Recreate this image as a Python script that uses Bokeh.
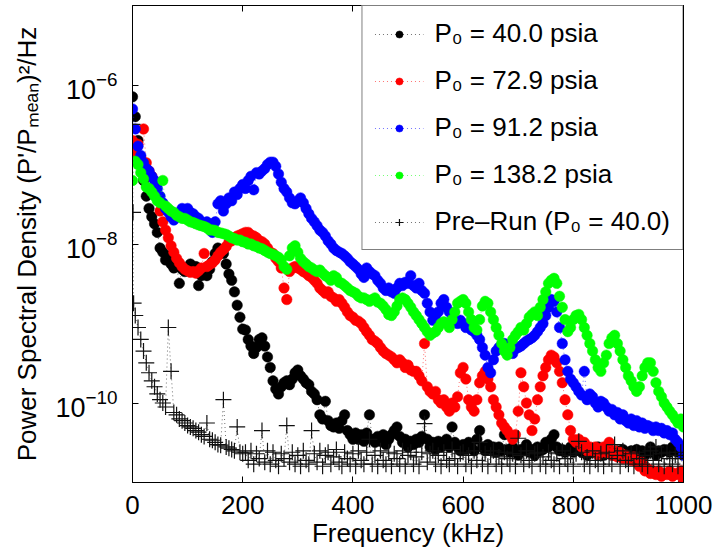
from bokeh.plotting import figure
from bokeh.models import (FixedTicker, Legend, LegendItem, LogAxis, LinearAxis,
                          CustomJSTickFormatter)
from bokeh.embed import file_html
from bokeh.resources import INLINE

FONT = "Liberation Sans"

# ---------------- data ----------------
FREQ_KHZ = list(range(0, 1001, 5))
FREQ_PRE_KHZ = [0, 1, 2] + list(range(5, 1001, 5))

PSD_40 = [
    7.1e-7, 4.0e-7, 2.0e-7, 1.1e-7, 6.3e-8, 4.0e-8, 2.8e-8, 2.2e-8, 1.8e-8, 1.4e-8,
    8.9e-9, 7.9e-9, 6.3e-9, 7.1e-9, 5.6e-9, 5.0e-9, 5.2e-9, 3.2e-9, 4.8e-9, 4.5e-9,
    5.0e-9, 5.6e-9, 4.8e-9, 5.2e-9, 3.0e-9, 4.0e-9, 4.5e-9, 4.0e-9, 4.8e-9, 6.0e-9,
    7.6e-9, 8.9e-9, 8.3e-9, 7.6e-9, 5.6e-9, 4.2e-9, 3.5e-9, 2.5e-9, 1.7e-9, 1.2e-9,
    8.5e-10, 8.3e-10, 6.3e-10, 5.2e-10, 4.2e-10, 5.0e-10, 6.3e-10, 6.6e-10, 5.2e-10, 3.8e-10,
    2.8e-10, 1.9e-10, 1.5e-10, 1.3e-10, 1.6e-10, 1.8e-10, 1.9e-10, 1.7e-10, 2.0e-10, 2.4e-10,
    2.6e-10, 2.2e-10, 2.0e-10, 1.8e-10, 1.7e-10, 1.4e-10, 1.3e-10, 1.1e-10, 7.1e-11, 6.3e-11,
    1.05e-10, 6.0e-11, 5.2e-11, 5.0e-11, 5.6e-11, 4.8e-11, 6.0e-11, 7.1e-11, 4.5e-11, 4.0e-11,
    3.5e-11, 4.2e-11, 3.5e-11, 4.0e-11, 3.3e-11, 4.2e-11, 7.1e-11, 3.5e-11, 3.2e-11, 3.8e-11,
    3.3e-11, 4.0e-11, 3.0e-11, 3.5e-11, 4.0e-11, 4.5e-11, 5.0e-11, 3.8e-11, 3.2e-11, 3.5e-11,
    2.8e-11, 3.3e-11, 3.0e-11, 3.5e-11, 3.2e-11, 3.8e-11, 7.1e-11, 3.5e-11, 2.8e-11, 3.2e-11,
    2.6e-11, 3.3e-11, 2.8e-11, 3.2e-11, 3.5e-11, 2.8e-11, 5.0e-11, 3.2e-11, 2.8e-11, 2.5e-11,
    3.0e-11, 2.6e-11, 3.2e-11, 2.8e-11, 2.5e-11, 3.5e-11, 4.5e-11, 2.8e-11, 2.5e-11, 3.0e-11,
    2.6e-11, 2.8e-11, 2.4e-11, 2.8e-11, 2.5e-11, 4.0e-11, 2.6e-11, 2.4e-11, 2.8e-11, 2.5e-11,
    2.2e-11, 2.6e-11, 2.5e-11, 3.0e-11, 2.4e-11, 2.6e-11, 2.2e-11, 2.8e-11, 2.5e-11, 2.6e-11,
    3.2e-11, 2.8e-11, 3.5e-11, 4.0e-11, 2.8e-11, 2.5e-11, 2.6e-11, 2.4e-11, 2.5e-11, 2.8e-11,
    2.4e-11, 2.6e-11, 2.8e-11, 2.4e-11, 2.5e-11, 2.2e-11, 2.6e-11, 2.4e-11, 2.5e-11, 2.8e-11,
    2.4e-11, 2.2e-11, 2.5e-11, 2.6e-11, 2.4e-11, 2.2e-11, 2.5e-11, 2.4e-11, 2.6e-11, 2.2e-11,
    2.4e-11, 2.5e-11, 2.2e-11, 2.6e-11, 2.4e-11, 2.5e-11, 2.2e-11, 2.4e-11, 2.8e-11, 2.5e-11,
    2.2e-11, 2.5e-11, 2.4e-11, 2.6e-11, 2.5e-11, 2.4e-11, 2.8e-11, 2.5e-11, 2.4e-11, 2.5e-11,
    1.0e-11,
]

PSD_72 = [
    2.0e-7, 1.4e-7, 1.8e-7, 1.2e-7, 2.8e-7, 1.05e-7, 8.3e-8, 7.1e-8, 5.2e-8, 4.0e-8,
    2.6e-8, 1.9e-8, 1.5e-8, 1.2e-8, 9.5e-9, 7.9e-9, 6.6e-9, 5.8e-9, 5.2e-9, 4.8e-9,
    4.6e-9, 4.4e-9, 4.5e-9, 4.3e-9, 4.6e-9, 5.0e-9, 7.6e-9, 5.2e-9, 5.5e-9, 5.8e-9,
    6.3e-9, 7.1e-9, 7.9e-9, 8.5e-9, 9.3e-9, 1.05e-8, 1.1e-8, 1.2e-8, 1.26e-8, 1.3e-8,
    1.35e-8, 1.4e-8, 1.4e-8, 1.3e-8, 1.26e-8, 1.2e-8, 1.1e-8, 1.07e-8, 1.0e-8, 8.9e-9,
    7.9e-9, 7.6e-9, 6.6e-9, 6.0e-9, 5.0e-9, 2.8e-9, 2.0e-9, 4.5e-9, 5.0e-9, 5.2e-9,
    5.0e-9, 4.8e-9, 4.5e-9, 4.3e-9, 4.0e-9, 3.8e-9, 3.5e-9, 3.2e-9, 2.8e-9, 2.6e-9,
    2.4e-9, 2.5e-9, 2.2e-9, 2.1e-9, 1.9e-9, 2.0e-9, 1.8e-9, 1.6e-9, 1.4e-9, 1.26e-9,
    1.2e-9, 1.1e-9, 1.07e-9, 1.0e-9, 8.9e-10, 7.9e-10, 7.1e-10, 6.3e-10, 6.0e-10, 5.6e-10,
    5.0e-10, 4.5e-10, 4.2e-10, 4.0e-10, 3.8e-10, 3.5e-10, 3.2e-10, 3.5e-10, 3.2e-10, 2.8e-10,
    3.0e-10, 2.6e-10, 2.5e-10, 2.5e-10, 2.2e-10, 1.9e-10, 5.6e-10, 1.6e-10, 1.4e-10, 1.3e-10,
    1.4e-10, 1.1e-10, 1.0e-10, 1.1e-10, 8.9e-11, 7.9e-11, 1.0e-10, 8.9e-11, 1.2e-10, 2.4e-10,
    2.8e-10, 2.0e-10, 1.1e-10, 8.9e-11, 7.9e-11, 1.1e-10, 1.8e-10, 2.2e-10, 2.5e-10, 2.0e-10,
    1.6e-10, 1.1e-10, 8.9e-11, 7.1e-11, 5.6e-11, 5.0e-11, 4.5e-11, 4.0e-11, 3.5e-11, 4.0e-11,
    7.9e-11, 2.4e-10, 1.6e-10, 1.0e-10, 7.1e-11, 4.5e-11, 6.3e-11, 1.1e-10, 1.6e-10, 2.2e-10,
    2.8e-10, 3.5e-10, 4.0e-10, 3.8e-10, 3.2e-10, 2.5e-10, 1.8e-10, 1.1e-10, 7.1e-11, 4.5e-11,
    3.5e-11, 3.2e-11, 3.5e-11, 2.8e-11, 3.2e-11, 2.5e-11, 2.8e-11, 2.5e-11, 2.8e-11, 2.2e-11,
    2.5e-11, 2.8e-11, 2.4e-11, 3.2e-11, 2.2e-11, 2.5e-11, 2.1e-11, 2.4e-11, 2.0e-11, 2.2e-11,
    2.0e-11, 1.9e-11, 2.1e-11, 1.8e-11, 1.6e-11, 1.8e-11, 1.4e-11, 1.5e-11, 1.3e-11, 1.4e-11,
    1.26e-11, 1.4e-11, 1.2e-11, 1.3e-11, 1.26e-11, 1.4e-11, 1.2e-11, 1.3e-11, 1.26e-11, 1.4e-11,
    1.1e-11,
]

PSD_91 = [
    5.0e-7, 2.8e-7, 1.7e-7, 1.3e-7, 1.05e-7, 8.9e-8, 8.3e-8, 7.1e-8, 6.3e-8, 5.0e-8,
    4.0e-8, 3.3e-8, 2.8e-8, 2.5e-8, 2.2e-8, 2.0e-8, 2.2e-8, 2.5e-8, 2.8e-8, 2.6e-8,
    2.8e-8, 2.5e-8, 2.4e-8, 2.2e-8, 2.1e-8, 1.9e-8, 1.8e-8, 1.9e-8, 1.6e-8, 1.4e-8,
    1.9e-8, 3.2e-8, 3.5e-8, 2.6e-8, 3.2e-8, 3.8e-8, 3.5e-8, 4.5e-8, 4.2e-8, 5.0e-8,
    5.6e-8, 5.0e-8, 6.3e-8, 7.1e-8, 4.8e-8, 7.9e-8, 7.6e-8, 8.3e-8, 8.9e-8, 1.0e-7,
    1.07e-7, 1.07e-7, 9.5e-8, 7.6e-8, 6.0e-8, 5.0e-8, 4.5e-8, 3.8e-8, 3.3e-8, 3.2e-8,
    3.5e-8, 3.8e-8, 3.3e-8, 2.8e-8, 2.4e-8, 2.1e-8, 1.9e-8, 1.7e-8, 1.5e-8, 1.4e-8,
    1.26e-8, 1.1e-8, 1.0e-8, 8.9e-9, 8.3e-9, 7.9e-9, 7.6e-9, 7.1e-9, 6.6e-9, 6.0e-9,
    5.6e-9, 5.2e-9, 4.8e-9, 4.2e-9, 3.8e-9, 5.0e-9, 4.5e-9, 4.2e-9, 4.0e-9, 3.5e-9,
    3.2e-9, 2.8e-9, 2.6e-9, 2.8e-9, 2.5e-9, 2.4e-9, 2.8e-9, 3.2e-9, 3.0e-9, 3.3e-9,
    3.2e-9, 4.0e-9, 3.0e-9, 2.8e-9, 3.2e-9, 2.6e-9, 2.4e-9, 1.8e-9, 1.4e-9, 1.1e-9,
    1.26e-9, 1.4e-9, 1.8e-9, 2.0e-9, 1.6e-9, 1.4e-9, 1.3e-9, 1.1e-9, 1.0e-9, 1.1e-9,
    1.0e-9, 8.9e-10, 9.5e-10, 8.3e-10, 7.9e-10, 7.1e-10, 6.3e-10, 5.0e-10, 4.0e-10, 2.8e-10,
    2.4e-10, 3.5e-10, 4.5e-10, 5.0e-10, 5.2e-10, 5.6e-10, 5.0e-10, 4.5e-10, 4.2e-10, 4.8e-10,
    5.0e-10, 5.2e-10, 5.6e-10, 6.0e-10, 6.3e-10, 6.6e-10, 7.1e-10, 7.9e-10, 8.9e-10, 1.0e-9,
    1.26e-9, 1.6e-9, 2.0e-9, 1.9e-9, 1.4e-9, 8.9e-10, 5.6e-10, 3.5e-10, 2.5e-10, 2.0e-10,
    1.8e-10, 1.6e-10, 1.4e-10, 1.26e-10, 2.5e-10, 1.1e-10, 1.3e-10, 1.2e-10, 1.0e-10, 8.9e-11,
    1.05e-10, 1.0e-10, 8.9e-11, 7.9e-11, 8.3e-11, 7.1e-11, 7.6e-11, 6.3e-11, 7.1e-11, 6.0e-11,
    5.6e-11, 6.3e-11, 5.2e-11, 6.0e-11, 5.0e-11, 5.6e-11, 4.8e-11, 5.2e-11, 5.0e-11, 4.5e-11,
    5.0e-11, 4.5e-11, 4.8e-11, 4.2e-11, 4.5e-11, 4.0e-11, 4.2e-11, 3.5e-11, 3.2e-11, 2.8e-11,
    2.2e-11,
]

PSD_138 = [
    6.3e-8, 1.1e-7, 1.0e-7, 7.9e-8, 6.6e-8, 5.2e-8, 5.0e-8, 4.5e-8, 4.0e-8, 3.5e-8,
    3.3e-8, 6.3e-8, 3.0e-8, 2.8e-8, 2.6e-8, 2.5e-8, 2.3e-8, 2.2e-8, 2.1e-8, 2.1e-8,
    2.0e-8, 1.9e-8, 1.86e-8, 1.8e-8, 1.74e-8, 1.7e-8, 1.66e-8, 1.6e-8, 1.5e-8, 1.5e-8,
    1.48e-8, 1.4e-8, 1.38e-8, 1.35e-8, 1.32e-8, 1.26e-8, 1.2e-8, 1.17e-8, 1.12e-8, 1.12e-8,
    1.07e-8, 1.05e-8, 1.0e-8, 1.0e-8, 9.5e-9, 9.3e-9, 8.9e-9, 8.7e-9, 8.3e-9, 7.9e-9,
    7.6e-9, 7.4e-9, 7.1e-9, 6.8e-9, 6.3e-9, 5.2e-9, 4.8e-9, 7.1e-9, 8.9e-9, 9.5e-9,
    7.9e-9, 6.6e-9, 6.0e-9, 5.6e-9, 5.2e-9, 5.0e-9, 4.7e-9, 4.5e-9, 4.7e-9, 4.3e-9,
    4.0e-9, 3.8e-9, 3.5e-9, 4.0e-9, 3.8e-9, 3.3e-9, 3.2e-9, 3.0e-9, 2.8e-9, 2.6e-9,
    2.5e-9, 2.4e-9, 2.2e-9, 2.1e-9, 2.1e-9, 2.0e-9, 1.9e-9, 2.0e-9, 2.1e-9, 1.86e-9,
    1.8e-9, 1.66e-9, 1.5e-9, 1.3e-9, 1.26e-9, 1.4e-9, 1.66e-9, 2.0e-9, 2.1e-9, 2.0e-9,
    1.8e-9, 1.6e-9, 1.4e-9, 1.26e-9, 1.12e-9, 1.0e-9, 8.9e-10, 7.9e-10, 7.1e-10, 7.6e-10,
    7.9e-10, 8.9e-10, 1.0e-9, 1.05e-9, 1.0e-9, 8.9e-10, 1.12e-9, 1.4e-9, 1.8e-9, 1.9e-9,
    2.0e-9, 1.8e-9, 1.4e-9, 1.12e-9, 8.9e-10, 8.3e-10, 1.12e-9, 1.66e-9, 1.9e-9, 1.8e-9,
    1.4e-9, 1.12e-9, 8.9e-10, 7.1e-10, 5.6e-10, 4.5e-10, 4.0e-10, 5.0e-10, 6.3e-10, 7.1e-10,
    7.9e-10, 8.9e-10, 8.3e-10, 1.0e-9, 1.2e-9, 1.3e-9, 1.4e-9, 1.26e-9, 1.6e-9, 2.0e-9,
    2.5e-9, 3.2e-9, 3.5e-9, 3.7e-9, 3.2e-9, 2.2e-9, 1.6e-9, 1.12e-9, 7.9e-10, 8.9e-10,
    1.12e-9, 1.26e-9, 1.3e-9, 1.12e-9, 8.9e-10, 7.1e-10, 5.6e-10, 4.5e-10, 3.5e-10, 2.8e-10,
    2.5e-10, 3.2e-10, 4.0e-10, 5.6e-10, 6.6e-10, 7.1e-10, 5.6e-10, 4.5e-10, 3.5e-10, 2.8e-10,
    2.2e-10, 1.9e-10, 1.6e-10, 1.4e-10, 1.6e-10, 2.2e-10, 2.8e-10, 3.2e-10, 3.2e-10, 2.5e-10,
    1.8e-10, 1.4e-10, 1.2e-10, 1.0e-10, 8.9e-11, 7.9e-11, 7.1e-11, 6.3e-11, 5.6e-11, 6.3e-11,
    5.0e-11,
]

PSD_PRERUN = [
    3.2e-7, 2.5e-8, 1.8e-9,
    1.26e-9, 8.9e-10, 6.3e-10, 4.5e-10, 3.2e-10, 2.4e-10, 1.9e-10, 1.6e-10, 1.3e-10, 1.1e-10,
    1.0e-10, 8.9e-11, 8.9e-10, 2.5e-10, 7.6e-11, 7.1e-11, 6.3e-11, 6.0e-11, 5.6e-11, 5.2e-11,
    5.0e-11, 4.8e-11, 4.5e-11, 4.3e-11, 4.0e-11, 3.8e-11, 5.6e-11, 3.5e-11, 3.4e-11, 3.2e-11,
    3.0e-11, 2.95e-11, 1.1e-10, 2.8e-11, 2.7e-11, 2.6e-11, 2.5e-11, 5.0e-11, 2.4e-11, 2.3e-11,
    2.4e-11, 1.9e-11, 2.5e-11, 1.7e-11, 2.3e-11, 2.0e-11, 4.5e-11, 1.8e-11, 2.5e-11, 1.7e-11,
    2.4e-11, 1.9e-11, 1.6e-11, 2.3e-11, 2.0e-11, 5.2e-11, 1.8e-11, 2.4e-11, 1.7e-11, 2.2e-11,
    1.6e-11, 2.5e-11, 1.9e-11, 1.7e-11, 4.5e-11, 2.3e-11, 1.8e-11, 2.5e-11, 1.6e-11, 2.2e-11,
    2.4e-11, 1.7e-11, 2.1e-11, 2.6e-11, 1.8e-11, 1.6e-11, 2.4e-11, 2.0e-11, 1.7e-11, 2.3e-11,
    1.6e-11, 2.5e-11, 1.9e-11, 1.7e-11, 2.4e-11, 3.5e-11, 1.7e-11, 2.2e-11, 1.6e-11, 2.5e-11,
    1.9e-11, 1.7e-11, 2.4e-11, 1.6e-11, 2.3e-11, 2.0e-11, 1.7e-11, 2.5e-11, 1.6e-11, 2.2e-11,
    2.4e-11, 1.7e-11, 2.1e-11, 1.6e-11, 2.4e-11, 5.5e-11, 1.8e-11, 2.3e-11, 2.5e-11, 1.7e-11,
    2.2e-11, 1.6e-11, 2.4e-11, 1.9e-11, 1.7e-11, 2.6e-11, 2.0e-11, 1.6e-11, 2.3e-11, 2.4e-11,
    1.7e-11, 2.2e-11, 1.6e-11, 2.5e-11, 1.9e-11, 3.2e-11, 1.7e-11, 2.3e-11, 1.6e-11, 2.2e-11,
    2.5e-11, 1.7e-11, 2.1e-11, 1.6e-11, 2.4e-11, 2.0e-11, 1.7e-11, 2.3e-11, 1.6e-11, 3.6e-11,
    2.2e-11, 1.7e-11, 2.5e-11, 1.9e-11, 1.6e-11, 2.3e-11, 2.4e-11, 1.7e-11, 2.1e-11, 1.6e-11,
    2.4e-11, 1.9e-11, 1.7e-11, 2.3e-11, 1.6e-11, 2.5e-11, 2.0e-11, 1.7e-11, 2.2e-11, 1.6e-11,
    2.3e-11, 3.3e-11, 2.4e-11, 1.7e-11, 2.1e-11, 1.6e-11, 2.5e-11, 1.9e-11, 1.7e-11, 2.3e-11,
    1.6e-11, 2.4e-11, 2.0e-11, 1.7e-11, 3.0e-11, 2.2e-11, 1.6e-11, 2.5e-11, 1.9e-11, 1.7e-11,
    2.3e-11, 1.6e-11, 2.4e-11, 2.0e-11, 1.7e-11, 2.2e-11, 1.6e-11, 2.5e-11, 1.9e-11, 2.8e-11,
    1.7e-11, 2.3e-11, 1.6e-11, 2.4e-11, 2.0e-11, 1.7e-11, 2.2e-11, 1.6e-11, 2.4e-11, 2.0e-11,
]

SERIES_LABELS = ["P₀ = 40.0 psia", "P₀ = 72.9 psia", "P₀ = 91.2 psia",
                 "P₀ = 138.2 psia", "Pre–Run (P₀ = 40.0)"]
SERIES_COLORS = ["#000000", "#ff0000", "#0000ff", "#00ff00", "#000000"]
X_TICKS = [0, 200, 400, 600, 800, 1000]
Y_TICKS = [1e-10, 1e-8, 1e-6]

# ---------------- figure ----------------
p = figure(width=717, height=554, y_axis_type="log",
           x_range=(0, 1000), y_range=(1e-11, 1e-5),
           output_backend="svg", toolbar_location=None,
           min_border_left=132, min_border_right=34,
           min_border_top=5, min_border_bottom=72)
p.xgrid.visible = False
p.ygrid.visible = False
p.outline_line_color = "black"
p.outline_line_width = 1
p.outline_line_alpha = 1
p.background_fill_color = "white"
p.border_fill_color = "white"


def style_axis(ax, ticks, fs="26px"):
    ax.ticker = FixedTicker(ticks=ticks, minor_ticks=[])
    ax.major_tick_in = 6
    ax.major_tick_out = 0
    ax.minor_tick_in = 0
    ax.minor_tick_out = 0
    ax.axis_line_color = "black"
    ax.major_tick_line_color = "black"
    ax.major_label_text_font = FONT
    ax.major_label_text_font_size = fs
    ax.major_label_text_color = "black"
    ax.axis_label_text_font = FONT
    ax.axis_label_text_font_size = "26px"
    ax.axis_label_text_font_style = "normal"
    ax.axis_label_text_color = "black"


xa = p.xaxis[0]
style_axis(xa, X_TICKS)
xa.axis_label = "Frequency (kHz)"
xa.major_label_standoff = 13
xa.axis_label_standoff = 1

ya = p.yaxis[0]
style_axis(ya, Y_TICKS, fs="27px")
ya.axis_label = "Power Spectral Density (P'/Pₘₑₐₙ)²/Hz"
ya.major_label_standoff = 15
ya.axis_label_standoff = 10

top_ax = LinearAxis(formatter=CustomJSTickFormatter(code="return ''"))
style_axis(top_ax, X_TICKS, fs="0px")
top_ax.major_label_standoff = 0
p.add_layout(top_ax, "above")

right_ax = LogAxis(formatter=CustomJSTickFormatter(code="return ''"))
style_axis(right_ax, Y_TICKS, fs="0px")
right_ax.major_label_standoff = 0
p.add_layout(right_ax, "right")

# ---------------- series ----------------
items = []
series = [(FREQ_KHZ, PSD_40), (FREQ_KHZ, PSD_72), (FREQ_KHZ, PSD_91),
          (FREQ_KHZ, PSD_138), (FREQ_PRE_KHZ, PSD_PRERUN)]
for i, (fx, fy) in enumerate(series):
    col = SERIES_COLORS[i]
    lr = p.line(fx, fy, line_color=col, line_width=0.7, line_dash="1 3", line_alpha=0.8)
    if i < 4:
        sr = p.scatter(fx, fy, marker="circle", size=10.5, fill_color=col,
                       line_color=col, line_width=0.5)
    else:
        sr = p.scatter(fx, fy, marker="cross", size=16, line_color="#111111",
                       line_width=1.2, line_alpha=1.0)
    items.append(LegendItem(label=SERIES_LABELS[i], renderers=[lr, sr]))

legend = Legend(items=items, location="top_right", margin=0, padding=12,
                spacing=16, glyph_width=49, glyph_height=18, label_standoff=11,
                label_text_font=FONT, label_text_font_size="26px",
                label_text_color="black",
                border_line_color="black", border_line_width=1,
                background_fill_color="white", background_fill_alpha=1)
p.add_layout(legend, "center")

open("out.html", "w").write(file_html(p, INLINE))
